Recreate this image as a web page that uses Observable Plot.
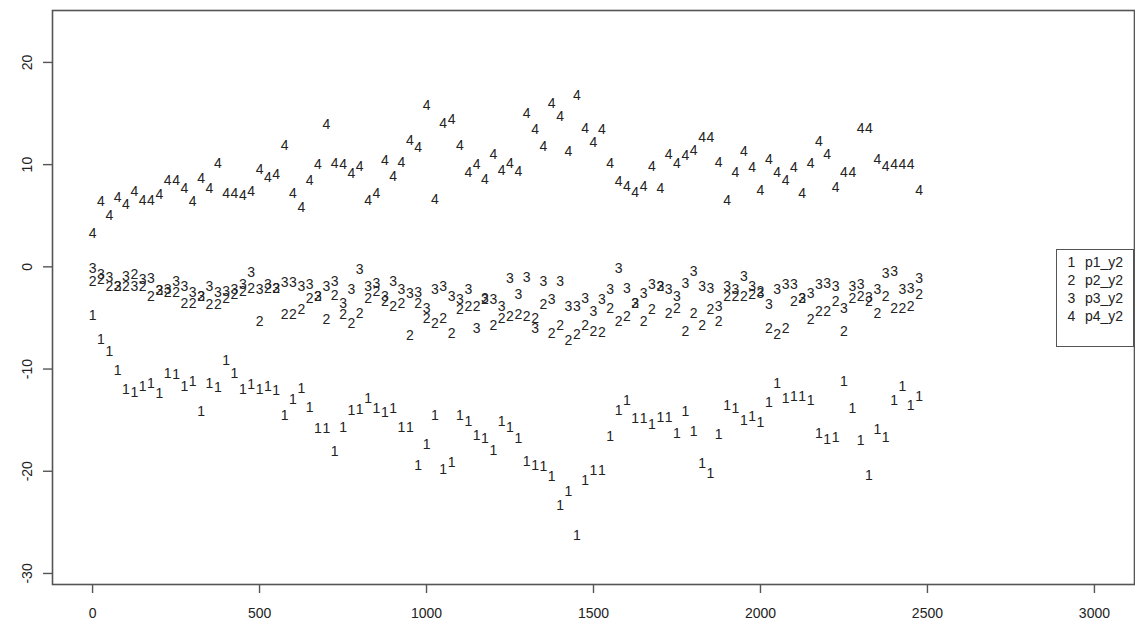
<!DOCTYPE html>
<html>
<head>
<meta charset="utf-8">
<script src="https://cdn.jsdelivr.net/npm/d3@7"></script>
<script src="https://cdn.jsdelivr.net/npm/@observablehq/plot@0.6"></script>
<style>
  html, body { margin: 0; padding: 0; background: #fff; }
  #wrap { position: relative; width: 1135px; height: 624px; font-family: "Liberation Sans", Arial, sans-serif; }
  #legend {
    position: absolute; left: 1056px; top: 249px; width: 76px; height: 93px;
    border: 1.5px solid #555; background: #fff; box-sizing: content-box;
    font-size: 14px; color: #222; padding-top: 3px;
  }
  #legend div { height: 18px; line-height: 18px; white-space: pre; }
  #legend .k { display: inline-block; width: 27px; text-align: center; margin-left: 1px; }
</style>
</head>
<body>
<div id="wrap"><div id="chart"></div><div id="legend"></div></div>
<script>
// sample positions along the x axis
const steps = [0,25,50,75,100,125,150,175,200,225,250,275,300,325,350,375,400,425,450,475,
  500,525,550,575,600,625,650,675,700,725,750,775,800,825,850,875,900,925,950,975,
  1000,1025,1050,1075,1100,1125,1150,1175,1200,1225,1250,1275,1300,1325,1350,1375,1400,1425,1450,1475,
  1500,1525,1550,1575,1600,1625,1650,1675,1700,1725,1750,1775,1800,1825,1850,1875,1900,1925,1950,1975,
  2000,2025,2050,2075,2100,2125,2150,2175,2200,2225,2250,2275,2300,2325,2350,2375,2400,2425,2450,2475];

const p1_y2 = [-4.74,-7.1,-8.26,-10.16,-12.0,-12.25,-11.7,-11.4,-12.35,-10.4,
  -10.5,-11.7,-11.2,-14.2,-11.4,-11.8,-9.2,-10.4,-12.0,-11.5,
  -12.0,-11.7,-12.1,-14.5,-13.0,-11.9,-13.75,-15.8,-15.8,-18.1,
  -15.7,-14.1,-14.0,-12.85,-13.9,-14.3,-13.9,-15.7,-15.7,-19.4,
  -17.35,-14.5,-19.8,-19.1,-14.5,-15.1,-16.5,-16.8,-18.0,-15.1,
  -15.7,-16.8,-19.0,-19.4,-19.5,-20.5,-23.4,-22.0,-26.3,-20.9,
  -19.9,-19.9,-16.6,-14.1,-13.1,-14.8,-14.8,-15.4,-14.7,-14.7,
  -16.3,-14.15,-16.1,-19.2,-20.2,-16.4,-13.6,-13.9,-15.0,-14.6,
  -15.2,-13.3,-11.4,-12.85,-12.7,-12.7,-13.1,-16.3,-16.9,-16.7,
  -11.2,-13.9,-17.0,-20.4,-15.9,-16.7,-13.1,-11.7,-13.6,-12.7];

const p2_y2 = [-1.43,-1.2,-1.9,-1.9,-1.9,-0.8,-1.9,-2.9,-2.3,-2.5,
  -2.5,-3.6,-3.6,-2.9,-3.7,-3.7,-3.1,-2.75,-2.4,-2.1,
  -5.35,-2.1,-2.1,-4.7,-4.7,-4.2,-3.1,-2.9,-5.2,-2.85,
  -4.7,-5.5,-4.55,-3.1,-2.4,-3.4,-3.9,-3.56,-6.7,-3.56,
  -5.03,-5.5,-5.03,-6.5,-4.2,-3.9,-3.9,-3.2,-5.7,-5.1,
  -4.87,-4.7,-4.87,-5.03,-3.7,-6.5,-5.7,-7.2,-6.66,-5.7,
  -6.3,-6.4,-4.05,-5.36,-4.87,-3.56,-5.36,-4.21,-1.92,-4.54,
  -4.05,-6.3,-4.54,-5.7,-4.21,-5.36,-2.9,-2.9,-2.9,-2.74,
  -2.4,-6.0,-6.66,-6.0,-3.4,-3.07,-5.2,-4.38,-4.38,-3.4,
  -6.3,-3.07,-2.9,-3.4,-4.54,-2.9,-4.05,-4.05,-3.9,-2.74];

const p3_y2 = [-0.13,-0.78,-1.0,-1.9,-0.9,-1.9,-1.2,-1.1,-2.3,-2.25,
  -1.4,-1.9,-2.5,-2.9,-1.9,-2.5,-2.4,-2.25,-1.75,-0.6,
  -2.25,-1.75,-2.1,-1.5,-1.5,-1.9,-1.75,-2.9,-1.9,-1.45,
  -3.56,-2.25,-0.3,-1.9,-1.6,-2.9,-1.45,-2.25,-2.6,-2.5,
  -4.05,-2.25,-1.9,-2.9,-3.23,-2.25,-6.0,-3.1,-3.2,-3.9,
  -1.1,-2.74,-1.0,-6.0,-1.43,-3.23,-1.43,-3.9,-3.9,-3.07,
  -4.4,-3.23,-2.25,-0.13,-2.1,-3.56,-2.58,-1.76,-1.92,-2.25,
  -2.9,-1.6,-0.45,-1.92,-2.09,-3.9,-1.92,-2.25,-0.94,-1.92,
  -2.58,-3.72,-2.25,-1.76,-1.76,-3.07,-2.58,-1.76,-1.6,-1.92,
  -4.05,-1.92,-1.76,-3.0,-2.25,-0.62,-0.45,-2.25,-2.09,-1.1];

const p4_y2 = [3.3,6.4,5.0,6.8,6.05,7.35,6.5,6.5,7.1,8.4,
  8.4,7.7,6.4,8.6,7.7,10.1,7.2,7.2,7.0,7.4,
  9.5,8.7,9.0,11.9,7.2,5.85,8.4,10.0,13.9,10.1,
  10.05,9.1,9.8,6.5,7.2,10.4,8.8,10.2,12.4,11.7,
  15.75,6.6,14.0,14.45,11.9,9.2,10.0,8.5,10.95,9.45,
  10.1,9.3,15.0,13.4,11.8,16.0,14.7,11.3,16.8,13.5,
  12.15,13.4,10.1,8.3,7.9,7.25,7.9,9.8,7.7,11.0,
  10.1,10.85,11.35,12.65,12.65,10.2,6.5,9.2,11.3,9.7,
  7.5,10.5,9.2,8.4,9.7,7.15,10.1,12.3,11.0,7.75,
  9.2,9.2,13.55,13.55,10.5,9.8,10.0,10.0,10.0,7.5];

const seriesNames = ["p1_y2", "p2_y2", "p3_y2", "p4_y2"];
const seriesValues = [p1_y2, p2_y2, p3_y2, p4_y2];
const xTicks = [0, 500, 1000, 1500, 2000, 2500, 3000];
const yTicks = [-30, -20, -10, 0, 10, 20];

// long table: one row per plotted character
const rows = [];
seriesValues.forEach((vals, s) => {
  vals.forEach((v, i) => rows.push({x: steps[i], y: v, label: String(s + 1)}));
});

const ink = "#222";
const plain = d => String(d);
const chart = Plot.plot({
  width: 1135,
  height: 624,
  marginLeft: 52,
  marginRight: 1,
  marginTop: 10,
  marginBottom: 40,
  style: {fontFamily: "'Liberation Sans', Arial, sans-serif", background: "#fff", color: ink},
  x: {domain: [-120, 3120]},
  y: {domain: [-31.08, 25.08]},
  marks: [
    Plot.frame({stroke: "#555", strokeWidth: 1.6}),
    Plot.axisX({ticks: xTicks, tickFormat: plain, tickSize: 9, tickPadding: 15, fontSize: 14, label: null, stroke: "#555", strokeWidth: 1.4}),
    Plot.axisY({ticks: yTicks, tickFormat: plain, tickSize: 9, tickPadding: 12, fontSize: 14, label: null, tickRotate: -90, stroke: "#555", strokeWidth: 1.4}),
    Plot.text(rows, {x: "x", y: "y", text: "label", fontSize: 14, fill: ink})
  ]
});
document.getElementById("chart").appendChild(chart);

const legend = document.getElementById("legend");
seriesNames.forEach((name, i) => {
  const line = document.createElement("div");
  line.innerHTML = `<span class="k">${i + 1}</span>${name}`;
  legend.appendChild(line);
});
</script>
</body>
</html>
